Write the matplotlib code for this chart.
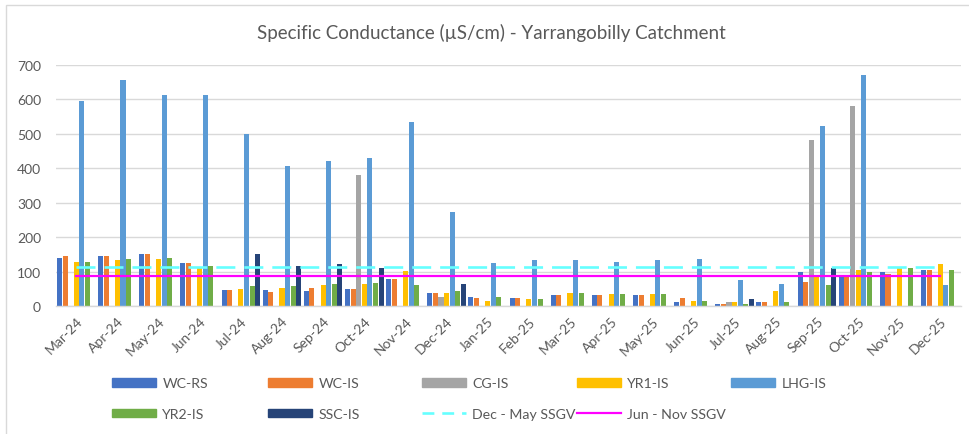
import numpy as np
import matplotlib
matplotlib.use("Agg")
import matplotlib.pyplot as plt
from matplotlib.patches import Rectangle, Patch
from matplotlib.lines import Line2D

nan = np.nan
months = ["Mar-24", "Apr-24", "May-24", "Jun-24", "Jul-24", "Aug-24", "Sep-24", "Oct-24",
          "Nov-24", "Dec-24", "Jan-25", "Feb-25", "Mar-25", "Apr-25", "May-25", "Jun-25",
          "Jul-25", "Aug-25", "Sep-25", "Oct-25", "Nov-25", "Dec-25"]

wc_rs = [140, 145, 151, 125, 46, 46, 43, 49, 79, 39, 27, 24, 32, 32, 32, 12, 8, 13, 99, 87, 99, 106]
wc_is = [145, 145, 151, 125, 46, 42, 53, 49, 79, 39, 23, 24, 32, 32, 32, 24, 8, 13, 70, 87, 95, 106]
cg_is = [nan, nan, nan, nan, nan, nan, nan, 380, nan, 27, nan, nan, nan, nan, nan, nan, 13, nan, 483, 580, nan, nan]
yr1_is = [129, 133, 137, 111, 50, 54, 61, 65, 102, 39, 15, 20, 38, 35, 35, 16, 13, 43, 84, 106, 110, 122]
lhg_is = [596, 656, 614, 614, 501, 407, 422, 430, 536, 275, 126, 133, 133, 129, 133, 137, 76, 65, 524, 671, nan, 61]
yr2_is = [129, 137, 140, 117, 58, 58, 65, 69, 61, 43, 27, 20, 38, 35, 35, 16, 8, 13, 61, 99, 110, 106]
ssc_is = [nan, nan, nan, nan, 151, 118, 122, 110, nan, 65, nan, nan, nan, nan, nan, nan, 20, nan, 110, nan, nan, nan]

dec_may_ssgv = 115
jun_nov_ssgv = 88

series_names = ["WC-RS", "WC-IS", "CG-IS", "YR1-IS", "LHG-IS", "YR2-IS", "SSC-IS"]
series_vals = [wc_rs, wc_is, cg_is, yr1_is, lhg_is, yr2_is, ssc_is]
colors = ["#4472C4", "#ED7D31", "#A5A5A5", "#FFC000", "#5B9BD5", "#70AD47", "#264478"]

plt.rcParams["font.family"] = ["Lato", "DejaVu Sans"]
txt = "#595959"
grid = "#D9D9D9"

W, H = 969, 435
fig = plt.figure(figsize=(W / 100, H / 100), dpi=100)
ax = fig.add_axes([55.7 / W, 1 - 307.3 / H, (960.9 - 55.7) / W, (307.3 - 66) / H])

x = np.arange(len(months))
slot = 1.0 / (7 * 1.05)
for k, (name, vals, c) in enumerate(zip(series_names, series_vals, colors)):
    ax.bar(x + (k - 3) * slot, np.array(vals, dtype=float), width=slot * 0.9,
           color=c, edgecolor="none", label=name, zorder=2)

ax.plot(x, [dec_may_ssgv] * len(months), color="#66FFFF", lw=1.9,
        dashes=(7.2, 3.4), zorder=3, dash_capstyle="butt")
ax.plot(x, [jun_nov_ssgv] * len(months), color="#FF00FF", lw=1.6, zorder=3)

ax.set_xlim(-0.5, len(months) - 0.5)
ax.set_ylim(0, 700)
ax.set_yticks(range(0, 701, 100))
ax.yaxis.grid(True, color=grid, lw=1.0, zorder=0)
for s in ["top", "right", "left"]:
    ax.spines[s].set_visible(False)
ax.spines["bottom"].set_color(grid)
ax.spines["bottom"].set_linewidth(1.0)
ax.tick_params(axis="y", length=0, pad=10.5, labelsize=10, labelcolor=txt)
ax.tick_params(axis="x", length=0, pad=6, labelsize=10, labelcolor=txt)
ax.set_xticks(x)
ax.set_xticklabels(months, rotation=45, ha="right", rotation_mode="anchor")

fig.text(491 / W, 1 - 33 / H, "Specific Conductance (µS/cm) - Yarrangobilly Catchment",
         ha="center", va="center", fontsize=13.5, color=txt)

# legend, Excel-style equally spaced columns
col_x = [112, 268, 422, 577, 731]
handles = [Patch(color=c) for c in colors] + [
    Line2D([], [], color="#66FFFF", lw=1.9, dashes=(4.5, 3.0)),
    Line2D([], [], color="#FF00FF", lw=1.6)]
labels = series_names + ["Dec - May SSGV", "Jun - Nov SSGV"]
order = [[0, 5], [1, 6], [2, 7], [3, 8], [4]]
for cx, idx in zip(col_x, order):
    fig.legend([handles[i] for i in idx], [labels[i] for i in idx],
               loc="upper left", bbox_to_anchor=(cx / W, 1 - 378.5 / H),
               frameon=False, fontsize=10.2, labelcolor=txt,
               handlelength=3.1, handleheight=0.5, handletextpad=0.45,
               borderpad=0, borderaxespad=0, labelspacing=1.3)

fig.patches.append(Rectangle((6 / W, -0.05), 1.1, 1 - 6 / H + 0.05, transform=fig.transFigure,
                             fill=False, edgecolor=grid, lw=1.0))

fig.savefig("out.png", dpi=100)
